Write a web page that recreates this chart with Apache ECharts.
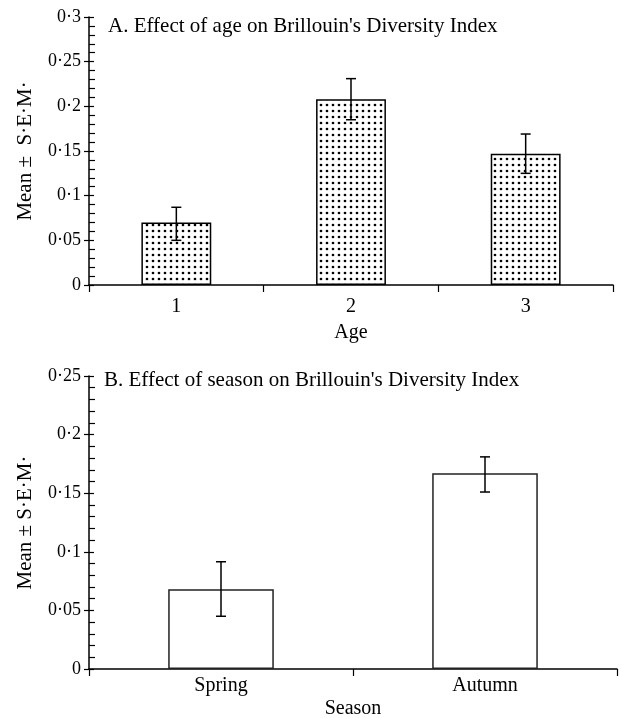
<!DOCTYPE html>
<html>
<head>
<meta charset="utf-8">
<script src="https://cdn.jsdelivr.net/npm/echarts@6/dist/echarts.min.js"></script>
<style>
html,body{margin:0;padding:0;background:#fff;}
#chart{width:621px;height:718px;}
</style>
</head>
<body>
<div id="chart"></div>
<script>
// ---- data ----
var ageCategories = ['1', '2', '3'];
var ageMean = [0.070, 0.208, 0.147];
var ageLow = [0.050, 0.185, 0.125];
var ageHigh = [0.087, 0.231, 0.169];

var seasonCategories = ['Spring', 'Autumn'];
var seasonMean = [0.068, 0.167];
var seasonLow = [0.045, 0.151];
var seasonHigh = [0.0915, 0.181];

var titleA = "A. Effect of age on Brillouin's Diversity Index";
var titleB = "B. Effect of season on Brillouin's Diversity Index";
var yNameA = 'Mean \u00b1  S\u00b7E\u00b7M\u00b7';
var yNameB = 'Mean \u00b1 S\u00b7E\u00b7M\u00b7';

// ---- style ----
var FONT = "'Liberation Serif', 'Times New Roman', serif";

var pat = document.createElement('canvas');
pat.width = 6; pat.height = 6;
var pctx = pat.getContext('2d');
pctx.fillStyle = '#fff'; pctx.fillRect(0, 0, 6, 6);
pctx.fillStyle = '#000';
pctx.beginPath(); pctx.arc(3, 3, 1.35, 0, Math.PI * 2); pctx.fill();

function fmt(v) {
  return v === 0 ? '0' : String(+v.toFixed(2)).replace('.', '\u00b7');
}

function errData(low, high) {
  return low.map(function (l, i) { return [i, l, high[i]]; });
}

function errRender(params, api) {
  var i = api.value(0);
  var pLo = api.coord([i, api.value(1)]);
  var pHi = api.coord([i, api.value(2)]);
  var hw = 5;
  var style = { stroke: '#000', lineWidth: 1.5 };
  return {
    type: 'group',
    children: [
      { type: 'line', shape: { x1: pLo[0], y1: pLo[1], x2: pHi[0], y2: pHi[1] }, style: style },
      { type: 'line', shape: { x1: pLo[0] - hw, y1: pLo[1], x2: pLo[0] + hw, y2: pLo[1] }, style: style },
      { type: 'line', shape: { x1: pHi[0] - hw, y1: pHi[1], x2: pHi[0] + hw, y2: pHi[1] }, style: style }
    ]
  };
}

function yAxis(idx, max, name) {
  return {
    type: 'value', gridIndex: idx, position: 'left', min: 0, max: max, interval: 0.05,
    name: name, nameLocation: 'middle', nameGap: 53, nameRotate: 90,
    nameTextStyle: { fontFamily: FONT, fontSize: 21, color: '#000' },
    axisLine: { show: true, lineStyle: { color: '#000', width: 1.5 } },
    axisTick: { show: true, length: 5, lineStyle: { color: '#000', width: 1.2 } },
    minorTick: { show: true, splitNumber: 5, length: -6, lineStyle: { color: '#000', width: 1.2 } },
    splitLine: { show: false },
    axisLabel: { fontFamily: FONT, fontSize: 18, color: '#000', margin: 8, formatter: fmt }
  };
}

// inner half of the major ticks (they cross the axis line)
function yAxisInner(idx, max) {
  return {
    type: 'value', gridIndex: idx, position: 'left', offset: 0, min: 0, max: max, interval: 0.05,
    axisLine: { show: false },
    axisTick: { show: true, inside: true, length: 5, lineStyle: { color: '#000', width: 1.2 } },
    splitLine: { show: false },
    axisLabel: { show: false }
  };
}

function xAxis(idx, cats, name, labelMargin, nameGap) {
  return {
    type: 'category', gridIndex: idx, data: cats,
    name: name, nameLocation: 'middle', nameGap: nameGap,
    nameTextStyle: { fontFamily: FONT, fontSize: 20, color: '#000' },
    axisLine: { show: true, lineStyle: { color: '#000', width: 1.5 } },
    axisTick: { show: true, length: 7, lineStyle: { color: '#000', width: 1.2 } },
    axisLabel: { fontFamily: FONT, fontSize: 20, color: '#000', margin: labelMargin }
  };
}

var chart = echarts.init(document.getElementById('chart'), null, { renderer: 'canvas' });
chart.setOption({
  backgroundColor: '#fff',
  animation: false,
  title: [
    { text: titleA, left: 108, top: 16, padding: 0,
      textStyle: { fontFamily: FONT, fontSize: 21, fontWeight: 'normal', color: '#000' } },
    { text: titleB, left: 104, top: 370, padding: 0,
      textStyle: { fontFamily: FONT, fontSize: 21, fontWeight: 'normal', color: '#000' } }
  ],
  grid: [
    { left: 89, top: 17, width: 524, height: 268, containLabel: false, outerBoundsMode: 'none' },
    { left: 89, top: 376, width: 528, height: 293, containLabel: false, outerBoundsMode: 'none' }
  ],
  xAxis: [
    xAxis(0, ageCategories, 'Age', 12, 38),
    xAxis(1, seasonCategories, 'Season', 7, 30)
  ],
  yAxis: [
    yAxis(0, 0.3, yNameA),
    yAxis(1, 0.25, yNameB),
    yAxisInner(0, 0.3),
    yAxisInner(1, 0.25)
  ],
  series: [
    { type: 'bar', xAxisIndex: 0, yAxisIndex: 0, data: ageMean, barWidth: '40%',
      itemStyle: { color: { image: pat, repeat: 'repeat' }, borderColor: '#000', borderWidth: 1.5 } },
    { type: 'custom', xAxisIndex: 0, yAxisIndex: 0, data: errData(ageLow, ageHigh),
      renderItem: errRender, z: 5 },
    { type: 'bar', xAxisIndex: 1, yAxisIndex: 1, data: seasonMean, barWidth: '40%',
      itemStyle: { color: '#fff', borderColor: '#222', borderWidth: 1.5 } },
    { type: 'custom', xAxisIndex: 1, yAxisIndex: 1, data: errData(seasonLow, seasonHigh),
      renderItem: errRender, z: 5 }
  ]
});
</script>
</body>
</html>
